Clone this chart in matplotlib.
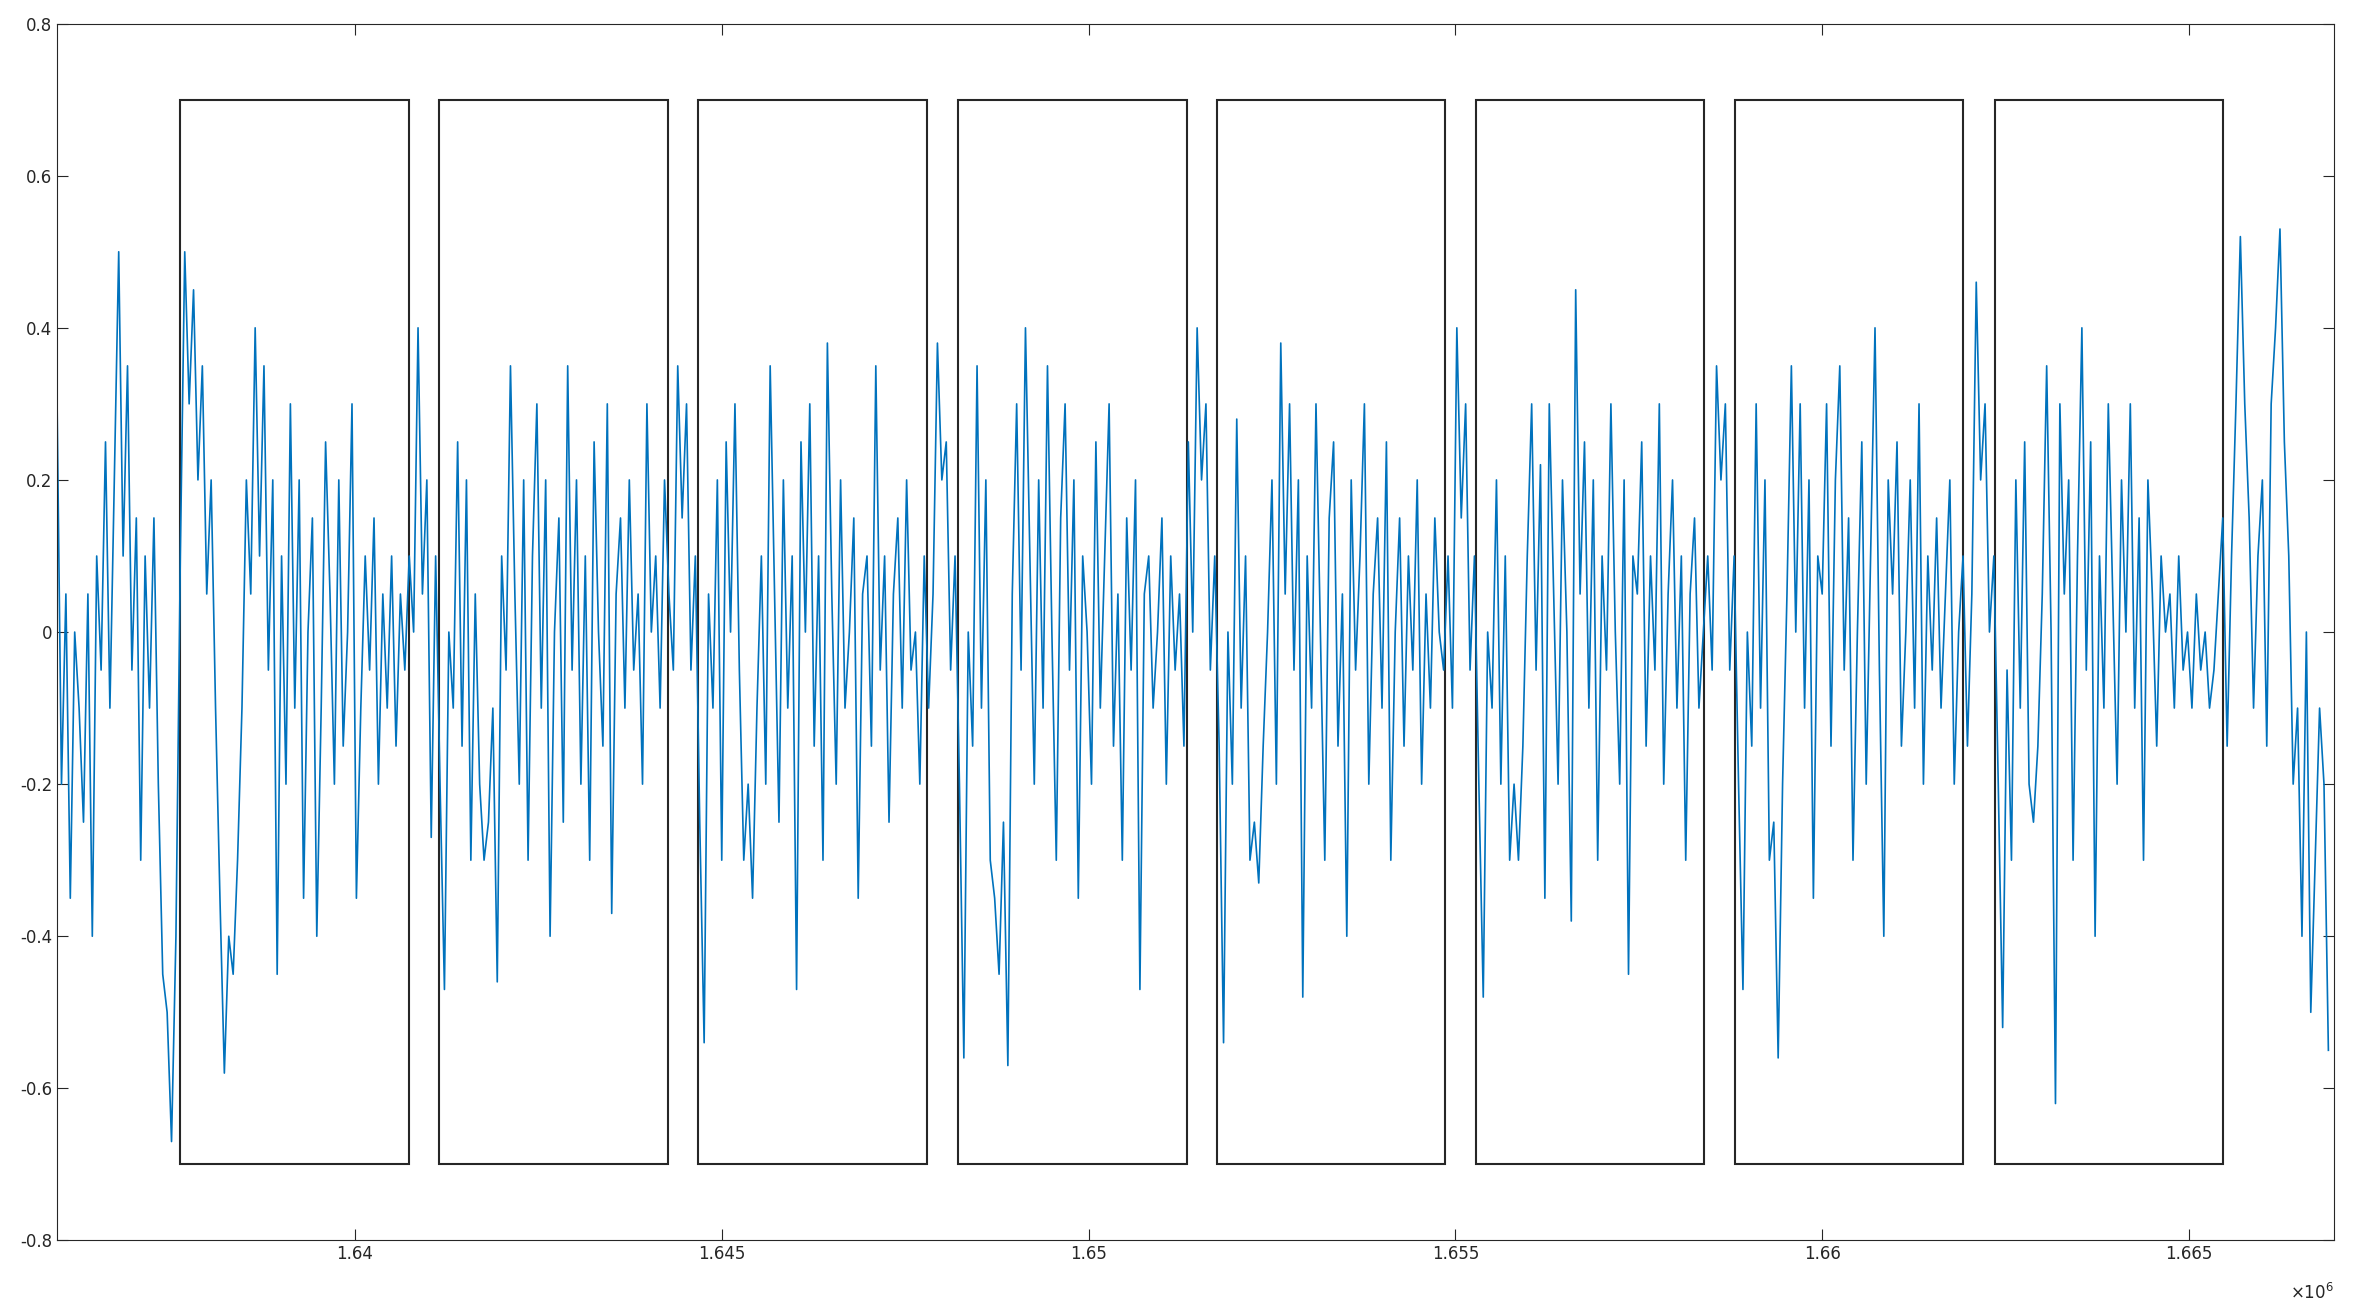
import matplotlib.pyplot as plt
from matplotlib.patches import Rectangle
import numpy as np

pre = [0.3, -0.2, 0.05, -0.35, 0.0, -0.1, -0.25, 0.05, -0.4, 0.1, -0.05, 0.25, -0.1, 0.2,
       0.5, 0.1, 0.35, -0.05, 0.15, -0.3, 0.1, -0.1, 0.15, -0.2, -0.45, -0.5, -0.67, -0.4]
p1 = [0.1, 0.5, 0.3, 0.45, 0.2, 0.35, 0.05, 0.2, -0.1, -0.35, -0.58, -0.4, -0.45, -0.3, -0.1,
      0.2, 0.05, 0.4, 0.1, 0.35, -0.05, 0.2, -0.45, 0.1, -0.2, 0.3, -0.1, 0.2, -0.35, 0.0,
      0.15, -0.4, -0.1, 0.25, 0.05, -0.2, 0.2, -0.15, 0.0, 0.3, -0.35, -0.1, 0.1, -0.05, 0.15,
      -0.2, 0.05, -0.1, 0.1, -0.15, 0.05, -0.05, 0.1, 0.0, 0.4, 0.05, 0.2, -0.27, 0.1]
p2 = [-0.2, -0.47, 0.0, -0.1, 0.25, -0.15, 0.2, -0.3, 0.05, -0.2, -0.3, -0.25, -0.1, -0.46, 0.1,
      -0.05, 0.35, 0.05, -0.2, 0.2, -0.3, 0.1, 0.3, -0.1, 0.2, -0.4, 0.0, 0.15, -0.25, 0.35,
      -0.05, 0.2, -0.2, 0.1, -0.3, 0.25, 0.0, -0.15, 0.3, -0.37, 0.05, 0.15, -0.1, 0.2, -0.05,
      0.05, -0.2, 0.3, 0.0, 0.1, -0.1, 0.2, 0.05, -0.05, 0.35, 0.15, 0.3, -0.05, 0.1]
p3 = [-0.25, -0.54, 0.05, -0.1, 0.2, -0.3, 0.25, 0.0, 0.3, -0.05, -0.3, -0.2, -0.35, -0.1, 0.1,
      -0.2, 0.35, 0.05, -0.25, 0.2, -0.1, 0.1, -0.47, 0.25, 0.0, 0.3, -0.15, 0.1, -0.3, 0.38,
      0.05, -0.2, 0.2, -0.1, 0.0, 0.15, -0.35, 0.05, 0.1, -0.15, 0.35, -0.05, 0.1, -0.25, 0.05,
      0.15, -0.1, 0.2, -0.05, 0.0, -0.2, 0.1, -0.1, 0.05, 0.38, 0.2, 0.25, -0.05, 0.1]
p4 = [-0.2, -0.56, 0.0, -0.15, 0.35, -0.1, 0.2, -0.3, -0.35, -0.45, -0.25, -0.57, 0.05, 0.3, -0.05,
      0.4, 0.1, -0.2, 0.2, -0.1, 0.35, 0.0, -0.3, 0.15, 0.3, -0.05, 0.2, -0.35, 0.1, 0.0,
      -0.2, 0.25, -0.1, 0.1, 0.3, -0.15, 0.05, -0.3, 0.15, -0.05, 0.2, -0.47, 0.05, 0.1, -0.1,
      0.0, 0.15, -0.2, 0.1, -0.05, 0.05, -0.15, 0.25, 0.0, 0.4, 0.2, 0.3, -0.05, 0.1]
p5 = [-0.15, -0.54, 0.0, -0.2, 0.28, -0.1, 0.1, -0.3, -0.25, -0.33, -0.15, 0.0, 0.2, -0.2, 0.38,
      0.05, 0.3, -0.05, 0.2, -0.48, 0.1, -0.1, 0.3, 0.0, -0.3, 0.15, 0.25, -0.15, 0.05, -0.4,
      0.2, -0.05, 0.1, 0.3, -0.2, 0.05, 0.15, -0.1, 0.25, -0.3, 0.0, 0.15, -0.15, 0.1, -0.05,
      0.2, -0.2, 0.05, -0.1, 0.15, 0.0, -0.05, 0.1, -0.1, 0.4, 0.15, 0.3, -0.05, 0.1]
p6 = [-0.2, -0.48, 0.0, -0.1, 0.2, -0.2, 0.1, -0.3, -0.2, -0.3, -0.15, 0.1, 0.3, -0.05, 0.22,
      -0.35, 0.3, 0.05, -0.2, 0.2, 0.0, -0.38, 0.45, 0.05, 0.25, -0.1, 0.2, -0.3, 0.1, -0.05,
      0.3, 0.0, -0.2, 0.2, -0.45, 0.1, 0.05, 0.25, -0.15, 0.1, -0.05, 0.3, -0.2, 0.05, 0.2,
      -0.1, 0.1, -0.3, 0.05, 0.15, -0.1, 0.0, 0.1, -0.05, 0.35, 0.2, 0.3, -0.05, 0.1]
p7 = [-0.2, -0.47, 0.0, -0.15, 0.3, -0.1, 0.2, -0.3, -0.25, -0.56, -0.2, 0.05, 0.35, 0.0, 0.3,
      -0.1, 0.2, -0.35, 0.1, 0.05, 0.3, -0.15, 0.2, 0.35, -0.05, 0.15, -0.3, 0.0, 0.25, -0.2,
      0.1, 0.4, -0.05, -0.4, 0.2, 0.05, 0.25, -0.15, 0.0, 0.2, -0.1, 0.3, -0.2, 0.1, -0.05,
      0.15, -0.1, 0.05, 0.2, -0.2, 0.0, 0.1, -0.15, 0.05, 0.46, 0.2, 0.3, 0.0, 0.1]
p8 = [-0.2, -0.52, -0.05, -0.3, 0.2, -0.1, 0.25, -0.2, -0.25, -0.15, 0.05, 0.35, 0.0, -0.62, 0.3,
      0.05, 0.2, -0.3, 0.1, 0.4, -0.05, 0.25, -0.4, 0.1, -0.1, 0.3, 0.05, -0.2, 0.2, 0.0,
      0.3, -0.1, 0.15, -0.3, 0.2, 0.05, -0.15, 0.1, 0.0, 0.05, -0.1, 0.1, -0.05, 0.0, -0.1,
      0.05, -0.05, 0.0, -0.1, -0.05, 0.05, 0.15, -0.15, 0.1, 0.3, 0.52, 0.3, 0.15, -0.1]
tail = [0.1, 0.2, -0.15, 0.3, 0.4, 0.53, 0.25, 0.1, -0.2, -0.1, -0.4, 0.0, -0.5, -0.3, -0.1,
        -0.2, -0.55]

signal = pre + p1 + p2 + p3 + p4 + p5 + p6 + p7 + p8 + tail
x_start = 1.63594e6
x_step = 60

box_starts = [1.63762e6, 1.64115e6, 1.64468e6, 1.64822e6, 1.65175e6, 1.65528e6, 1.65881e6, 1.66235e6]
box_width = 3115
box_low, box_high = -0.7, 0.7

x = x_start + x_step * np.arange(len(signal))

fig = plt.figure(figsize=(23.59, 13.14), dpi=100)
ax = fig.add_axes([0.0242, 0.056, 0.965, 0.926])
ax.plot(x, signal, color='#0072BD', linewidth=1.2)
for s in box_starts:
    ax.add_patch(Rectangle((s, box_low), box_width, box_high - box_low,
                           fill=False, edgecolor='#262626', linewidth=1.5))

ax.set_xlim(1.63594e6, 1.66697e6)
ax.set_ylim(-0.8, 0.8)
ax.set_xticks([1.64e6, 1.645e6, 1.65e6, 1.655e6, 1.66e6, 1.665e6])
ax.set_xticklabels(['1.64', '1.645', '1.65', '1.655', '1.66', '1.665'])
ax.set_yticks(np.arange(-0.8, 0.81, 0.2))
ax.set_yticklabels(['-0.8', '-0.6', '-0.4', '-0.2', '0', '0.2', '0.4', '0.6', '0.8'])
ax.tick_params(direction='in', labelsize=12, colors='#262626', top=True, right=True, length=8)
for sp in ax.spines.values():
    sp.set_color('#262626')
ax.text(1.0, -0.035, r'$\times10^{6}$', transform=ax.transAxes, ha='right', va='top',
        fontsize=12, color='#262626')

fig.savefig('out.png')
